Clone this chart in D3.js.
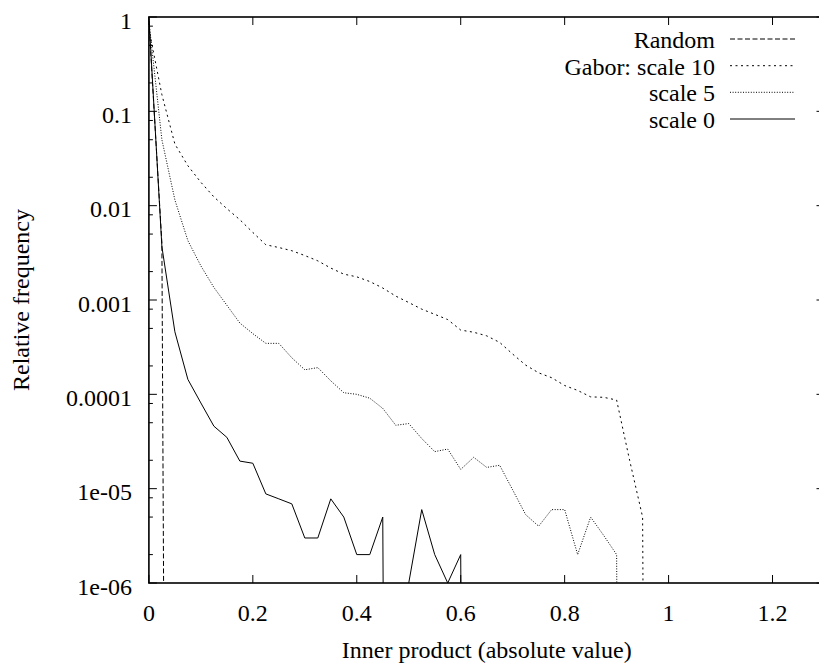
<!DOCTYPE html>
<html>
<head>
<meta charset="utf-8">
<script src="https://d3js.org/d3.v7.min.js"></script>
</head>
<body style="margin:0">
<svg class="chart" width="819" height="666"></svg>
<script>

// histogram bins (inner product, absolute value)
const bins = [0, 0.025, 0.05, 0.075, 0.1, 0.125, 0.15, 0.175, 0.2, 0.225,
  0.25, 0.275, 0.3, 0.325, 0.35, 0.375, 0.4, 0.425, 0.45, 0.475,
  0.5, 0.525, 0.55, 0.575, 0.6, 0.625, 0.65, 0.675, 0.7, 0.725,
  0.75, 0.775, 0.8, 0.825, 0.85, 0.875, 0.9, 0.925, 0.95, 0.975, 1.0];

const random = [0.9, 0.004, 0, 0, 0, 0, 0, 0, 0, 0,
  0, 0, 0, 0, 0, 0, 0, 0, 0, 0,
  0, 0, 0, 0, 0, 0, 0, 0, 0, 0,
  0, 0, 0, 0, 0, 0, 0, 0, 0, 0, 0];

const gabor10 = [0.75, 0.15, 0.045, 0.0265, 0.0177, 0.0124, 0.0093, 0.0071, 0.0052, 0.00385,
  0.0036, 0.00333, 0.00296, 0.0026, 0.00218, 0.00188, 0.00176, 0.00157, 0.00134, 0.0011,
  0.00094, 0.0008, 0.000705, 0.00062, 0.00048, 0.000455, 0.000417, 0.000355, 0.000267, 0.000204,
  0.000169, 0.00015, 0.000124, 0.00011, 0.000094, 0.000093, 0.000087, 0.00002, 0.000005, 0, 0];

const gabor5 = [0.9, 0.05, 0.0115, 0.00426, 0.0023, 0.00136, 0.00088, 0.00057, 0.00044, 0.000347,
  0.000347, 0.000244, 0.000182, 0.000192, 0.000139, 0.000104, 0.0001, 0.000091, 0.000071, 0.000047,
  0.000049, 0.000034, 0.0000247, 0.0000263, 0.000016, 0.0000215, 0.0000168, 0.0000177, 0.0000097, 0.0000053,
  0.000004, 0.000006, 0.000006, 0.000002, 0.000005, 0.0000032, 0.000002, 0, 0, 0, 0];

const gabor0 = [0.99, 0.00367, 0.00046, 0.000144, 0.000081, 0.000046, 0.000035, 0.0000196, 0.0000186, 0.0000088,
  0.0000078, 0.0000069, 0.000003, 0.000003, 0.0000078, 0.000005, 0.000002, 0.000002, 0.000005, 0,
  0.000001, 0.000006, 0.000002, 0.000001, 0.000002, 0, 0, 0, 0, 0,
  0, 0, 0, 0, 0, 0, 0, 0, 0, 0, 0];

const seriesNames = ["Random", "Gabor: scale 10", "scale 5", "scale 0"];
const seriesValues = [random, gabor10, gabor5, gabor0];
const seriesDash = ["5,2.5", "2,3.5", "1,1.6", null];

const xTicks = [0, 0.2, 0.4, 0.6, 0.8, 1, 1.2];
const yTicks = [1, 0.1, 0.01, 0.001, 0.0001, 1e-5, 1e-6];
const yTickLabels = ["1", "0.1", "0.01", "0.001", "0.0001", "1e-05", "1e-06"];
const yMinorMult = [2, 5, 8];

const margin = {left: 148.9, top: 17, bottom: 583, right: 824.5};

const svg = d3.select(".chart");

const x = d3.scaleLinear().domain([0, 1.3]).range([margin.left, margin.right]);
const y = d3.scaleLog().domain([1e-6, 1]).range([margin.bottom, margin.top]);

// text set at 30px and shrunk to ~24px
function label(xp, yp, str, anchor, rotate) {
  svg.append("text")
    .attr("transform", `translate(${xp},${yp})` + (rotate ? " rotate(-90)" : "") + " scale(0.8)")
    .attr("text-anchor", anchor)
    .attr("font-size", 30)
    .attr("fill", "#000")
    .style("font-family", '"Liberation Serif"')
    .text(str);
}

svg.append("clipPath").attr("id", "plot")
  .append("rect")
  .attr("x", margin.left).attr("y", margin.top)
  .attr("width", margin.right - margin.left).attr("height", margin.bottom - margin.top);

// minor y ticks at 2,5,8 per decade
const yMinor = [];
yTicks.slice(1).forEach(t => yMinorMult.forEach(m => { if (t * m < 1) yMinor.push(t * m); }));

const ticks = svg.append("g").attr("stroke", "#000").attr("stroke-width", 1);
yTicks.forEach(t => {
  ticks.append("line").attr("x1", margin.left).attr("x2", margin.left + 8).attr("y1", y(t)).attr("y2", y(t));
  ticks.append("line").attr("x1", margin.right).attr("x2", margin.right - 8).attr("y1", y(t)).attr("y2", y(t));
});
yMinor.forEach(t => {
  ticks.append("line").attr("x1", margin.left).attr("x2", margin.left + 4).attr("y1", y(t)).attr("y2", y(t));
  ticks.append("line").attr("x1", margin.right).attr("x2", margin.right - 4).attr("y1", y(t)).attr("y2", y(t));
});
xTicks.forEach(t => {
  ticks.append("line").attr("x1", x(t)).attr("x2", x(t)).attr("y1", margin.bottom).attr("y2", margin.bottom - 8);
  ticks.append("line").attr("x1", x(t)).attr("x2", x(t)).attr("y1", margin.top).attr("y2", margin.top + 8);
});

// tick labels
yTicks.forEach((t, i) => label(132, y(t) + 11.5, yTickLabels[i], "end"));
xTicks.forEach(t => label(x(t), 621, String(t), "middle"));

// axis titles
label(486.7, 658, "Inner product (absolute value)", "middle");
label(29, 300, "Relative frequency", "middle", true);

// curves: zero counts are pushed far below the axis so the line drops off, as gnuplot draws it
const floor = 1e-30;
const line = d3.line()
  .x(d => x(d[0]))
  .y(d => y(d[1] > 0 ? d[1] : floor));

const curves = svg.append("g").attr("clip-path", "url(#plot)");
seriesValues.forEach((vals, i) => {
  curves.append("path")
    .datum(bins.map((b, j) => [b, vals[j]]))
    .attr("d", line)
    .attr("fill", "none")
    .attr("stroke", "#000")
    .attr("stroke-width", 1)
    .attr("stroke-dasharray", seriesDash[i]);
});

// legend
const legY = [39, 65.7, 92.3, 119];
seriesNames.forEach((name, i) => {
  label(715, legY[i] + 9, name, "end");
  svg.append("line")
    .attr("x1", 730).attr("x2", 795).attr("y1", legY[i]).attr("y2", legY[i])
    .attr("stroke", "#000").attr("stroke-width", 1)
    .attr("stroke-dasharray", seriesDash[i]);
});

// border
svg.append("rect")
  .attr("x", margin.left).attr("y", margin.top)
  .attr("width", margin.right - margin.left).attr("height", margin.bottom - margin.top)
  .attr("fill", "none").attr("stroke", "#000").attr("stroke-width", 1.6);

</script>
</body>
</html>
